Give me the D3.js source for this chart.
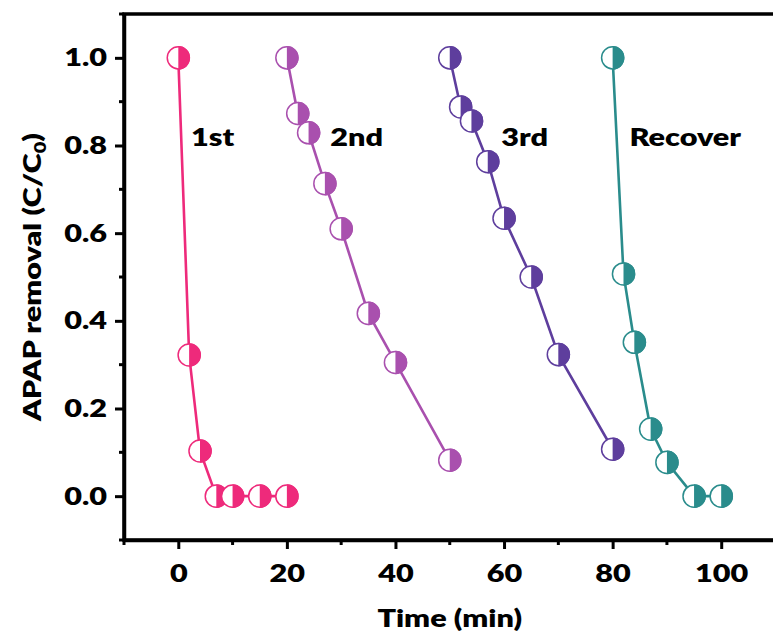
<!DOCTYPE html>
<html><head><meta charset="utf-8">
<script src="https://cdn.jsdelivr.net/npm/d3@7"></script>
<style>body{margin:0;background:#fff;overflow:hidden;} svg{display:block;} text{font-family:Lato, "Open Sans", sans-serif;font-weight:800;}</style>
</head><body>
<svg id="c" width="773" height="642"></svg>
<script>
const seriesNames = ["1st", "2nd", "3rd", "Recover"];
const seriesColors = ["#EE2A7B", "#A950AE", "#5E3E9D", "#2A8C8C"];
const t1 = [0, 2, 4, 7, 10, 15, 20];
const c1 = [1.0, 0.322, 0.103, 0, 0, 0, 0];
const t2 = [20, 22, 24, 27, 30, 35, 40, 50];
const c2 = [1.0, 0.873, 0.829, 0.713, 0.61, 0.417, 0.305, 0.082];
const t3 = [50, 52, 54, 57, 60, 65, 70, 80];
const c3 = [1.0, 0.888, 0.856, 0.763, 0.634, 0.50, 0.323, 0.107];
const t4 = [80, 82, 84, 87, 90, 95, 100];
const c4 = [1.0, 0.507, 0.351, 0.153, 0.077, 0, 0];
const labelPos = [[2.35, 0.80], [28, 0.80], [59.5, 0.80], [83.1, 0.80]];
const xTicks = [0, 20, 40, 60, 80, 100];
const yTicks = [0.0, 0.2, 0.4, 0.6, 0.8, 1.0];

const SX = 1.25, FS = 24.5;
const svg = d3.select("#c");
const L = 124, R = 775.5, T = 14, B = 540;
const x = d3.scaleLinear().domain([-10, 110]).range([L, R]);
const y = d3.scaleLinear().domain([-0.1, 1.1]).range([B, T]);

const series = [[t1, c1], [t2, c2], [t3, c3], [t4, c4]].map((d, i) => ({
  name: seriesNames[i], color: seriesColors[i],
  pts: d[0].map((t, j) => [t, d[1][j]])
}));

// minor ticks
const g = svg.append("g");
const xMinor = d3.range(-10, 111, 10).filter(v => v % 20 !== 0);
const yMinor = d3.range(-1, 12, 2).map(v => v / 10);
g.selectAll(".xm").data(xMinor).enter().append("line")
  .attr("x1", d => x(d)).attr("x2", d => x(d)).attr("y1", B).attr("y2", B + 5)
  .attr("stroke", "#000").attr("stroke-width", 3);
g.selectAll(".ym").data(yMinor).enter().append("line")
  .attr("y1", d => y(d)).attr("y2", d => y(d)).attr("x1", L).attr("x2", L - 5)
  .attr("stroke", "#000").attr("stroke-width", 3);

const xAxis = svg.append("g").attr("transform", `translate(0,${B})`)
  .call(d3.axisBottom(x).tickValues(xTicks).tickSize(9).tickSizeOuter(0).tickPadding(16).tickFormat(d3.format("d")));
const yAxis = svg.append("g").attr("transform", `translate(${L},0)`)
  .call(d3.axisLeft(y).tickValues(yTicks).tickSize(9).tickSizeOuter(0).tickPadding(8).tickFormat(d3.format(".1f")));
[xAxis, yAxis].forEach(a => {
  a.select(".domain").attr("stroke-width", 3.5);
  a.selectAll(".tick line").attr("stroke-width", 3);
  a.selectAll("text").attr("font-size", FS).attr("fill", "#000")
    .style("font-family", "Lato").style("font-weight", 800);
});
yAxis.selectAll(".tick text").each(function () {
  const t = d3.select(this);
  t.attr("x", +t.attr("x") / SX).attr("transform", `scale(${SX},1)`);
});
xAxis.selectAll(".tick text").attr("transform", `scale(${SX},1)`);

svg.append("line").attr("x1", L).attr("x2", R).attr("y1", B).attr("y2", B).attr("stroke", "#000").attr("stroke-width", 3.5);
svg.append("line").attr("x1", L).attr("x2", L).attr("y1", T).attr("y2", B + 1.75).attr("stroke", "#000").attr("stroke-width", 3.5);
svg.append("line").attr("x1", L - 1.75).attr("x2", R).attr("y1", T).attr("y2", T).attr("stroke", "#000").attr("stroke-width", 3.5);

const line = d3.line().x(d => x(d[0])).y(d => y(d[1]));
const r = 11.8;
const half = d3.arc().innerRadius(0).outerRadius(r).startAngle(0).endAngle(Math.PI);
series.forEach(s => {
  svg.append("path").datum(s.pts).attr("d", line).attr("fill", "none")
    .attr("stroke", s.color).attr("stroke-width", 2.6);
  const m = svg.append("g").selectAll("g").data(s.pts).enter().append("g")
    .attr("transform", d => `translate(${x(d[0])},${y(d[1])})`);
  m.append("circle").attr("r", r - 0.75).attr("fill", "#fff").attr("stroke", s.color).attr("stroke-width", 1.5);
  m.append("path").attr("d", half).attr("fill", s.color);
});

series.forEach((s, i) => {
  svg.append("text")
    .attr("transform", `translate(${x(labelPos[i][0])},${y(labelPos[i][1])}) scale(${SX},1)`)
    .attr("font-size", FS).attr("fill", "#000").text(s.name);
});

svg.append("text").attr("transform", `translate(${(L + R) / 2},627) scale(${SX},1)`).attr("text-anchor", "middle")
  .attr("font-size", FS).attr("fill", "#000").text("Time (min)");
const yt = svg.append("text").attr("transform", `translate(41,${(T + B) / 2}) rotate(-90) scale(${SX},1)`)
  .attr("text-anchor", "middle").attr("font-size", FS).attr("fill", "#000");
yt.append("tspan").text("APAP removal (C/C");
yt.append("tspan").attr("font-size", 16).attr("dy", 5).text("0");
yt.append("tspan").attr("dy", -5).text(")");
</script>
</body></html>
